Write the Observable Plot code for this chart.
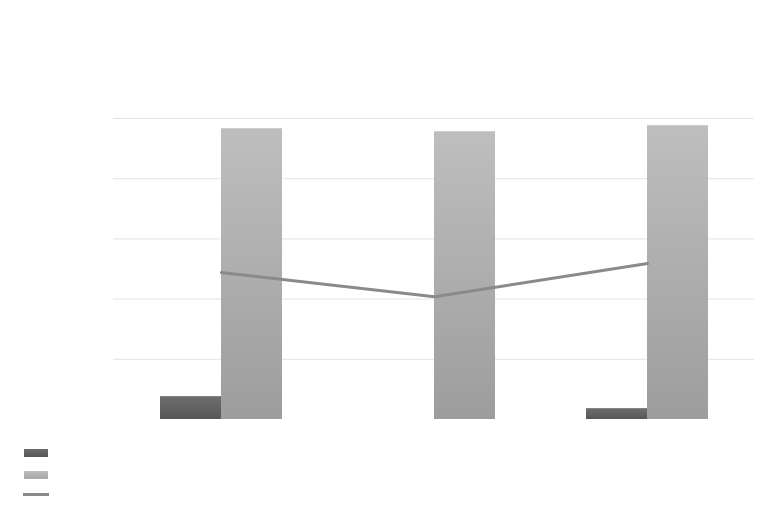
<!DOCTYPE html>
<html>
<head>
<meta charset="utf-8">
<script src="https://cdn.jsdelivr.net/npm/d3@7"></script>
<script src="https://cdn.jsdelivr.net/npm/@observablehq/plot@0.6"></script>
<style>
  html, body { margin: 0; padding: 0; background: #fff; }
  #chart { width: 768px; height: 512px; position: relative; font-family: "Liberation Sans", Arial, sans-serif; }
  .legend { padding: 9px 0 0 24px; }
  .sw { width: 24px; height: 8px; margin-bottom: 14px; }
  .sw.a { background: linear-gradient(#6e6e6e, #565656); }
  .sw.b { background: linear-gradient(#bdbdbd, #a8a8a8); }
  .sw.l { width: 26px; height: 3px; margin-left: -1px; background: #8a8a8a; margin-top: 3px; }
</style>
</head>
<body>
<div id="chart"></div>
<script>
const categories = ["C1", "C2", "C3"];
const seriesA = [0.38, 0, 0.18];
const seriesB = [4.83, 4.78, 4.88];
const lineValues = [2.44, 2.04, 2.59];
const yTicks = [1, 2, 3, 4, 5];

const dataA = categories.map((c, i) => ({cat: c, v: seriesA[i]}));
const dataB = categories.map((c, i) => ({cat: c, v: seriesB[i]}));
const dataL = categories.map((c, i) => ({cat: c, v: lineValues[i]}));

const defs = () => {
  const d = d3.create("svg:defs");
  const ga = d.append("linearGradient").attr("id", "gradA").attr("x1", 0).attr("y1", 0).attr("x2", 0).attr("y2", 1);
  ga.append("stop").attr("offset", "0%").attr("stop-color", "#6e6e6e");
  ga.append("stop").attr("offset", "100%").attr("stop-color", "#565656");
  const gb = d.append("linearGradient").attr("id", "gradB").attr("x1", 0).attr("y1", 0).attr("x2", 0).attr("y2", 1);
  gb.append("stop").attr("offset", "0%").attr("stop-color", "#bebebe");
  gb.append("stop").attr("offset", "100%").attr("stop-color", "#9d9d9d");
  return d.node();
};

const plot = Plot.plot({
  width: 768,
  height: 440,
  marginTop: 118,
  marginBottom: 21,
  marginLeft: 113,
  marginRight: 14,
  x: {domain: categories, paddingInner: 0.429, paddingOuter: 0.2145, align: 0.5, axis: null},
  y: {domain: [0, 5], axis: null},
  marks: [
    defs,
    Plot.ruleY(yTicks, {stroke: "#e4e4e4", strokeWidth: 1}),
    Plot.barY(dataA, {x: "cat", y: "v", fill: "url(#gradA)", insetRight: 61}),
    Plot.barY(dataB, {x: "cat", y: "v", fill: "url(#gradB)", insetLeft: 61}),
    Plot.lineY(dataL, {x: "cat", y: "v", stroke: "#8a8a8a", strokeWidth: 3})
  ]
});
document.getElementById("chart").appendChild(plot);

const legend = document.createElement("div");
legend.className = "legend";
legend.innerHTML = '<div class="sw a"></div><div class="sw b"></div><div class="sw l"></div>';
document.getElementById("chart").appendChild(legend);
</script>
</body>
</html>
